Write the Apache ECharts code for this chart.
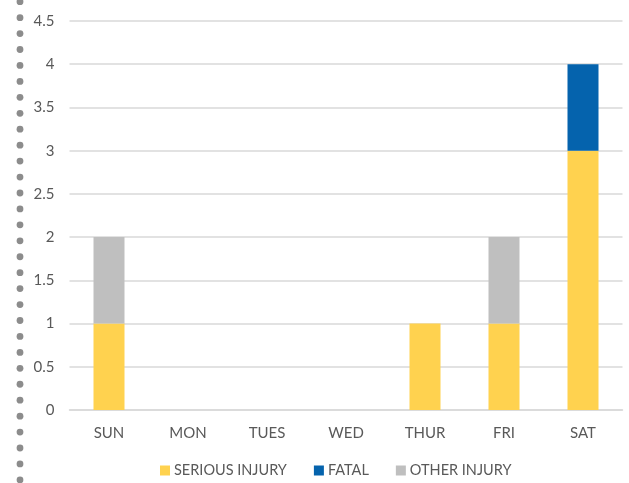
<!DOCTYPE html>
<html><head><meta charset="utf-8">
<script src="https://cdn.jsdelivr.net/npm/echarts@6/dist/echarts.min.js"></script>
<style>html,body{margin:0;padding:0;background:#fff}#c{width:629px;height:483px}</style>
</head><body><div id="c"></div>
<script>
var categories = ['SUN','MON','TUES','WED','THUR','FRI','SAT'];
var serious = [1,0,0,0,1,1,3];
var fatal = [0,0,0,0,0,0,1];
var other = [1,0,0,0,0,1,0];
var seriesNames = ['SERIOUS INJURY','FATAL','OTHER INJURY'];
var colors = ['#FFD24F','#0563AD','#BFBFBF'];

var font = 'Lato, "Open Sans", sans-serif';
var dots = [];
for (var i = 0; i < 31; i++) {
  dots.push({type:'circle', shape:{cx:20, cy:1.7 + i*15.94, r:3.4}, style:{fill:'#8C8C8C'}, silent:true});
}
var chart = echarts.init(document.getElementById('c'), null, {renderer:'canvas'});
function mk(name, data, color){
  return {name:name, type:'bar', stack:'a', data:data, barWidth:31,
    itemStyle:{color:color}, emphasis:{disabled:true}};
}
chart.setOption({
  animation:false,
  textStyle:{fontFamily:font},
  graphic: dots,
  grid:{left:69.5, right:6.5, top:21, bottom:73, containLabel:false},
  legend:{top:458, left:155, itemWidth:10, itemHeight:10, itemGap:27,
    icon:'rect',
    textStyle:{color:'#595959', fontSize:14.5, fontFamily:font, padding:[0,0,0,-1]},
    data:seriesNames},
  xAxis:{type:'category', data:categories,
    axisLine:{lineStyle:{color:'#D9D9D9', width:1.5}},
    axisTick:{show:false},
    axisLabel:{color:'#595959', fontSize:15, margin:16, fontFamily:font}},
  yAxis:{type:'value', min:0, max:4.5, interval:0.5,
    axisLine:{show:false}, axisTick:{show:false},
    splitLine:{lineStyle:{color:'#D9D9D9', width:1.5}},
    axisLabel:{color:'#595959', fontSize:15, margin:15, fontFamily:font}},
  series:[mk(seriesNames[0], serious, colors[0]), mk(seriesNames[1], fatal, colors[1]), mk(seriesNames[2], other, colors[2])]
});
</script></body></html>
